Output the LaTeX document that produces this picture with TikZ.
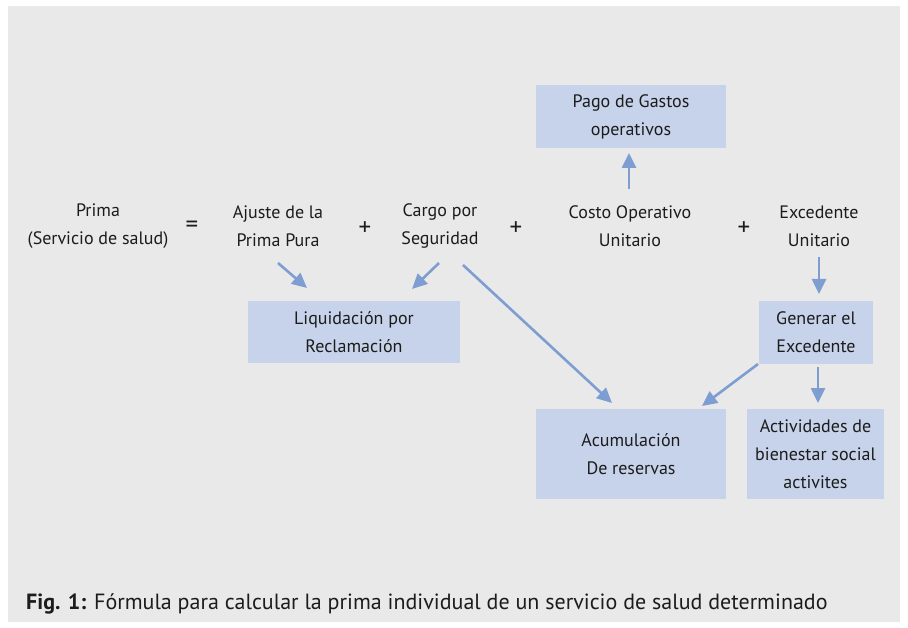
\documentclass[tikz,border=0pt]{standalone}
\usepackage{fontspec}
\setmainfont{PT Sans}
\usetikzlibrary{arrows.meta}
\usetikzlibrary{calc}

\definecolor{bggray}{HTML}{E9E9E9}
\definecolor{boxblue}{HTML}{C6D3EA}
\definecolor{arrowblue}{HTML}{7E9ED2}
\definecolor{inktext}{HTML}{1C1C1C}

\begin{document}
\begin{tikzpicture}[x=1pt,y=-1pt,
        txt/.style={align=center,inner sep=0pt,text=inktext,font=\fontsize{18}{28}\selectfont},
        op/.style={txt,font=\fontsize{25}{28}\selectfont},
        box/.style={txt,fill=boxblue,minimum width=#1},
        arr/.style={draw=arrowblue,line width=2.6pt,-{Triangle[length=15pt,width=14pt]}}]
            \useasboundingbox (0,0) rectangle (908,628);
            \fill[bggray] (8,6) rectangle (900,622);

            \node[txt] (P) at (98,226) {Prima\\(Servicio de salud)};
            \node[op] at (192,227) {=};
            \node[txt] (A) at (278,226) {Ajuste de la\\Prima Pura};
            \node[op] at (365,229) {+};
            \node[txt] (C) at (440,226) {Cargo por\\Seguridad};
            \node[op] at (516,229) {+};
            \node[txt] (O) at (630,226) {Costo Operativo\\Unitario};
            \node[op] at (744,229) {+};
            \node[txt] (E) at (819,226) {Excedente\\Unitario};

            \node[box=190pt,minimum height=63pt] (G) at (631,116.5) {Pago de Gastos\\operativos};
            \node[box=212pt,minimum height=62pt] (L) at (354,332) {Liquidación por\\Reclamación};
            \node[box=114pt,minimum height=63pt] (X) at (816,332.5) {Generar el\\Excedente};
            \node[box=190pt,minimum height=90pt] (R) at (631,454) {Acumulación\\De reservas};
            \node[box=137pt,minimum height=90pt] (S) at (815.5,454) {Actividades de\\bienestar social\\activites};

            \draw[arr] ($(A)+(0,37)$) to ($(L)+(-47,-44)$);
            \draw[arr] ($(C)+(-1,37)$) to ($(L)+(58,-43)$);
            \draw[arr] ($(C)+(23,39)$) to ($(R)+(-19,-51)$);
            \draw[arr] ($(O)+(-1,-37)$) to ($(G)+(-2,36.5)$);
            \draw[arr] ($(E)+(0,31)$) to ($(X)+(3,-38.5)$);
            \draw[arr] ($(X)+(2,34.5)$) to ($(S)+(2.5,-51)$);
            \draw[arr] ($(X)+(-58,31.5)$) to ($(R)+(71,-48)$);

            \node[txt,anchor=west,font=\fontsize{22}{26}\selectfont] (F) at (26,604) {\textbf{Fig. 1:} Fórmula para calcular la prima individual de un servicio de salud determinado};
        \end{tikzpicture}
\end{document}
